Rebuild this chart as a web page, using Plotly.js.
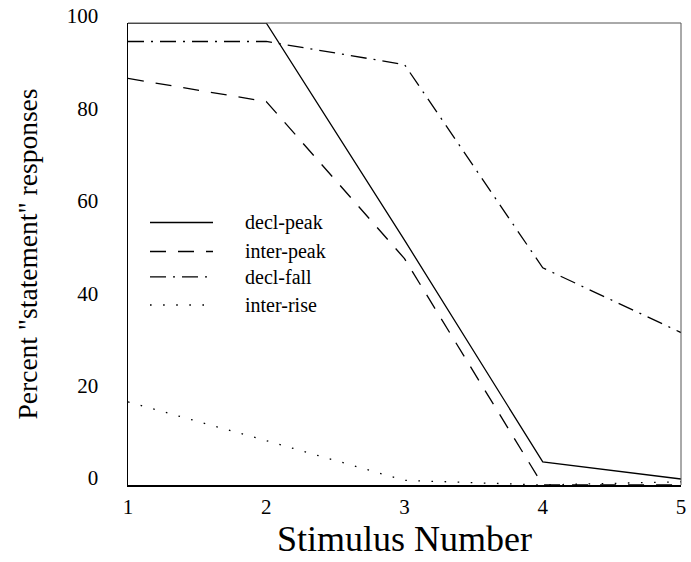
<!DOCTYPE html>
<html>
<head>
<meta charset="utf-8">
<script src="https://cdn.plot.ly/plotly-3.0.1.min.js"></script>
<style>
  html, body { margin: 0; padding: 0; background: #fff; }
  #chart { width: 691px; height: 562px; }
</style>
</head>
<body>
<div id="chart"></div>
<script>
// Percentage of "statement" responses for each stimulus step
const stimulus = [1, 2, 3, 4, 5];
const seriesNames = ["decl-peak", "inter-peak", "decl-fall", "inter-rise"];
const declPeak  = [100, 100, 53, 5, 1.3];
const interPeak = [88, 83, 49, 0, 0];
const declFall  = [96, 96, 91, 47, 33];
const interRise = [18, 9.6, 1, 0, 0.7];
const xTicks = [1, 2, 3, 4, 5];
const yTicks = [0, 20, 40, 60, 80, 100];

const seriesValues = [declPeak, interPeak, declFall, interRise];
const dashes = ["solid", "16px,12px", "16px,7px,2px,7px", "1.6px,11.5px"];

// plot-area geometry in pixels
const M = { l: 128, r: 10, t: 23, b: 77 };
const W = 691 - M.l - M.r;
const H = 562 - M.t - M.b;
const px2x = px => (px - M.l) / W;
const px2y = py => (562 - M.b - py) / H;

const font = "Liberation Serif";

const traces = seriesValues.map((vals, i) => ({
  type: "scatter",
  mode: "lines",
  x: stimulus,
  y: vals,
  name: seriesNames[i],
  showlegend: false,
  line: { color: "#000", width: 1.3, dash: dashes[i] },
  hoverinfo: "skip"
}));

// hand-drawn key inside the plot area
const keyRowsPx = [222.5, 251.5, 276.8, 305];
const keySample = [150, 213];
const keyTextX = 243;

const shapes = [
  // top and right frame edges (thin grey)
  { type: "line", xref: "paper", yref: "paper", x0: 0, x1: 1, y0: 1, y1: 1,
    line: { color: "#555", width: 1 } },
  { type: "line", xref: "paper", yref: "paper", x0: 1, x1: 1, y0: 0, y1: 1,
    line: { color: "#555", width: 1 } }
];
const annotations = [];
seriesNames.forEach((nm, i) => {
  shapes.push({
    type: "line", xref: "paper", yref: "paper",
    x0: px2x(keySample[0]), x1: px2x(keySample[1]),
    y0: px2y(keyRowsPx[i]), y1: px2y(keyRowsPx[i]),
    line: { color: "#000", width: 1.3, dash: dashes[i] }
  });
  annotations.push({
    xref: "paper", yref: "paper",
    x: px2x(keyTextX), y: px2y(keyRowsPx[i]),
    xanchor: "left", yanchor: "middle",
    text: nm, showarrow: false,
    font: { family: font, size: 20, color: "#000" }
  });
});

const layout = {
  width: 691,
  height: 562,
  margin: M,
  paper_bgcolor: "#fff",
  plot_bgcolor: "#fff",
  showlegend: false,
  xaxis: {
    range: [1, 5],
    tickvals: xTicks,
    ticktext: xTicks.map(String),
    showgrid: false,
    zeroline: false,
    showline: true,
    linecolor: "#000",
    linewidth: 1.5,
    ticks: "",
    ticklabelstandoff: 2,
    tickfont: { family: font, size: 21, color: "#000" },
    title: { text: "Stimulus Number", font: { family: font, size: 36, color: "#000" }, standoff: 6 },
    automargin: false
  },
  yaxis: {
    range: [0, 100],
    tickvals: yTicks,
    ticktext: yTicks.map(String),
    showgrid: false,
    zeroline: false,
    showline: true,
    linecolor: "#000",
    linewidth: 1.5,
    ticks: "",
    ticklabelstandoff: 24,
    ticklabelshift: -7,
    tickfont: { family: font, size: 21, color: "#000" },
    title: { text: "Percent \"statement\" responses", font: { family: font, size: 27.5, color: "#000" }, standoff: 21 },
    automargin: false
  },
  shapes: shapes,
  annotations: annotations
};

Plotly.newPlot("chart", traces, layout, { displayModeBar: false, staticPlot: true });
</script>
</body>
</html>
